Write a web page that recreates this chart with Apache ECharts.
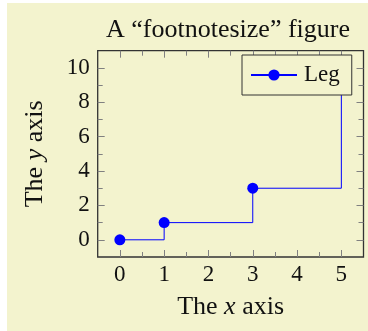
<!DOCTYPE html>
<html>
<head>
<meta charset="utf-8">
<script src="https://cdn.jsdelivr.net/npm/echarts@6/dist/echarts.min.js"></script>
<style>
html,body{margin:0;padding:0;background:#ffffff;width:368px;height:331px;overflow:hidden;}
#chart{position:absolute;left:7px;top:3px;width:361px;height:328px;}
</style>
</head>
<body>
<div id="chart"></div>
<script>
// Data
const xValues = [0, 1, 3, 5];
const yValues = [0, 1, 3, 10];
const xMajorTicks = [0, 1, 2, 3, 4, 5];
const xMinorTicks = [0.5, 1.5, 2.5, 3.5, 4.5];
const yMajorTicks = [0, 2, 4, 6, 8, 10];
const yMinorTicks = [1, 3, 5, 7, 9];
const titleText = 'A \u201cfootnotesize\u201d figure';
const seriesName = 'Leg';

const FONT = 'Liberation Serif';
const BG = '#f3f3ce';
const TXT = '#111111';
const TICK = '#808080';

const chart = echarts.init(document.getElementById('chart'), null, {renderer: 'canvas'});

function xAx(pos, vals, len, withLabels) {
  const a = {
    type: 'value', position: pos, min: -0.5, max: 5.5,
    axisLine: {show: false, onZero: false},
    splitLine: {show: false},
    axisTick: {show: true, inside: true, length: len, customValues: vals, lineStyle: {color: TICK, width: 1}},
    axisLabel: {show: false}
  };
  if (withLabels) {
    a.axisLabel = {show: true, customValues: xMajorTicks, margin: 6, color: TXT, fontFamily: FONT, fontSize: 23};
    a.name = 'The {i|x} axis';
    a.nameLocation = 'middle';
    a.nameGap = 37;
    a.nameTextStyle = {color: TXT, fontFamily: FONT, fontSize: 26, rich: {i: {fontStyle: 'italic', fontFamily: FONT, fontSize: 26, color: TXT}}};
  }
  return a;
}
function yAx(pos, vals, len, withLabels) {
  const a = {
    type: 'value', position: pos, min: -1, max: 11,
    axisLine: {show: false, onZero: false},
    splitLine: {show: false},
    axisTick: {show: true, inside: true, length: len, customValues: vals, lineStyle: {color: TICK, width: 1}},
    axisLabel: {show: false}
  };
  if (withLabels) {
    a.axisLabel = {show: true, customValues: yMajorTicks, margin: 8, color: TXT, fontFamily: FONT, fontSize: 23};
    a.name = 'The {i|y} axis';
    a.nameLocation = 'middle';
    a.nameRotate = 90;
    a.nameGap = 50;
    a.nameTextStyle = {color: TXT, fontFamily: FONT, fontSize: 26, rich: {i: {fontStyle: 'italic', fontFamily: FONT, fontSize: 26, color: TXT}}};
  }
  return a;
}

const option = {
  animation: false,
  backgroundColor: BG,
  title: {
    text: titleText,
    left: 216, top: 9, textAlign: 'center',
    textStyle: {color: TXT, fontFamily: FONT, fontSize: 26, fontWeight: 'normal'}
  },
  legend: {
    show: true,
    left: 235, top: 52,
    padding: [8, 12, 8, 8],
    backgroundColor: BG,
    borderColor: '#333333', borderWidth: 1, borderRadius: 0,
    itemWidth: 46, itemHeight: 14,
    textStyle: {color: TXT, fontFamily: FONT, fontSize: 23, lineHeight: 24, padding: [0, 0, 0, 2]},
    data: [seriesName]
  },
  grid: {
    left: 90.7, top: 47.7, right: 4.5, bottom: 74,
    show: true, borderColor: '#333333', borderWidth: 1.3, backgroundColor: 'transparent',
    containLabel: false
  },
  xAxis: [
    xAx('bottom', xMajorTicks, 7, true),
    xAx('bottom', xMinorTicks, 5, false),
    xAx('top', xMajorTicks, 7, false),
    xAx('top', xMinorTicks, 5, false)
  ],
  yAxis: [
    yAx('left', yMajorTicks, 7, true),
    yAx('left', yMinorTicks, 5, false),
    yAx('right', yMajorTicks, 7, false),
    yAx('right', yMinorTicks, 5, false)
  ],
  series: [{
    name: seriesName,
    type: 'line',
    step: 'end',
    xAxisIndex: 0, yAxisIndex: 0,
    data: xValues.map((x, i) => [x, yValues[i]]),
    symbol: 'circle', symbolSize: 11, showSymbol: true,
    itemStyle: {color: '#0000ff'},
    lineStyle: {color: '#0000ff', width: 1},
    z: 2
  }]
};
chart.setOption(option);
</script>
</body>
</html>
